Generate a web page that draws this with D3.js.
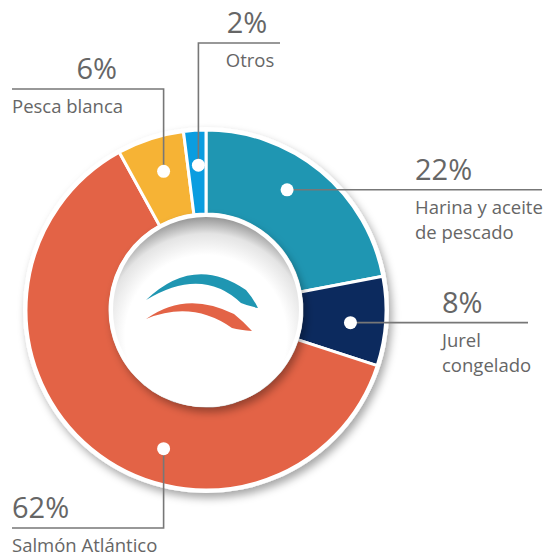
<!DOCTYPE html>
<html>
<head>
<meta charset="utf-8">
<script src="https://cdn.jsdelivr.net/npm/d3@7"></script>
<style>
  body { margin: 0; background: #fff; }
  svg { display: block; }
  text { font-family: "Open Sans", sans-serif; fill: #666; }
</style>
</head>
<body>
<svg width="549" height="557"></svg>
<script>
const categories = ["Harina y aceite de pescado", "Jurel congelado", "Salmón Atlántico", "Pesca blanca", "Otros"];
const values = [22, 8, 62, 6, 2];
const percentLabels = ["22%", "8%", "62%", "6%", "2%"];
const labelLines = [["Harina y aceite", "de pescado"], ["Jurel", "congelado"], ["Salmón Atlántico"], ["Pesca blanca"], ["Otros"]];
const sliceColors = ["#1f96b2", "#0c2a5e", "#e36346", "#f6b335", "#0a9de0"];

// label layout: dot angle (deg, clockwise from 12 o'clock), leader route and text anchor
const layout = [
  { ang: 34, route: "right", end: 542, tx: 415, anchor: "start" },
  { ang: 95, route: "right", end: 528, tx: 442, anchor: "start" },
  { ang: 197, route: "downLeft", turn: 528, end: 12, tx: 12, anchor: "start" },
  { ang: 343, route: "upLeft", turn: 89, end: 12, tx: 12, anchor: "start" },
  { ang: 357, route: "upRight", turn: 43, end: 280, tx: 247, anchor: "middle" }
];

const svg = d3.select("svg");
const cx = 206, cy = 310;
const outerR = 180, innerR = 96, dotR = 145;

const defs = svg.append("defs");
const shadow = defs.append("filter").attr("id", "shadow")
  .attr("x", "-20%").attr("y", "-20%").attr("width", "140%").attr("height", "140%");
shadow.append("feDropShadow").attr("dx", 3).attr("dy", 5).attr("stdDeviation", 4)
  .attr("flood-color", "#000").attr("flood-opacity", 0.35);

const bowl = defs.append("radialGradient").attr("id", "bowl")
  .attr("cx", "50%").attr("cy", "64%").attr("r", "64%");
bowl.append("stop").attr("offset", "68%").attr("stop-color", "#ffffff");
bowl.append("stop").attr("offset", "86%").attr("stop-color", "#e4e4e4");
bowl.append("stop").attr("offset", "100%").attr("stop-color", "#969696");

const g = svg.append("g").attr("transform", `translate(${cx},${cy})`);

// white rim behind ring, with shadow
g.append("circle").attr("r", outerR + 3).attr("fill", "#fff").attr("filter", "url(#shadow)");

const pie = d3.pie().sort(null).value(d => d)(values);
const arc = d3.arc().innerRadius(innerR).outerRadius(outerR);

g.selectAll(".slice")
  .data(pie)
  .enter()
  .append("path")
  .attr("class", "slice")
  .attr("d", arc)
  .attr("fill", (d, i) => sliceColors[i])
  .attr("stroke", "#fff")
  .attr("stroke-width", 3)
  .attr("stroke-linejoin", "miter");

// inner bowl
g.append("circle").attr("r", innerR + 1).attr("fill", "#fff").attr("filter", "url(#shadow)");
g.append("circle").attr("r", innerR - 3).attr("fill", "url(#bowl)");

// logo
const logo = g.append("g");
logo.append("path")
  .attr("d", "M-60,-10 Q-12,-56 40,-20 Q47,-12 52,-2 Q42,-4 35,-7 Q-4,-44 -60,-10 Z")
  .attr("fill", "#1f96b2");
logo.append("path")
  .attr("d", "M-60,9 Q-20,-20 28,4 Q38,12 46,21 Q34,20 26,18 Q-14,-10 -60,9 Z")
  .attr("fill", "#e36346");

// leader lines, dots, labels
const rad = a => a * Math.PI / 180;
const lines = svg.append("g");
const dots = svg.append("g");
const labels = svg.append("g");

pie.forEach((d, i) => {
  const L = layout[i];
  const x0 = cx + dotR * Math.sin(rad(L.ang));
  const y0 = cy - dotR * Math.cos(rad(L.ang));
  let pts, lineY;
  if (L.route === "right") {
    pts = [[x0, y0], [L.end, y0]]; lineY = y0;
  } else {
    pts = [[x0, y0], [x0, L.turn], [L.end, L.turn]]; lineY = L.turn;
  }
  lines.append("path")
    .attr("d", d3.line()(pts))
    .attr("fill", "none")
    .attr("stroke", "#777")
    .attr("stroke-width", 1.6);
  dots.append("circle")
    .attr("cx", x0).attr("cy", y0).attr("r", 6.5)
    .attr("fill", "#fff");

  const pctX = L.route === "upLeft" ? 117 : L.tx;
  labels.append("text")
    .attr("x", pctX).attr("y", lineY - 10)
    .attr("text-anchor", L.route === "upLeft" ? "end" : L.anchor)
    .style("font-size", "29px")
    .text(percentLabels[i]);
  labelLines[i].forEach((t, j) => {
    labels.append("text")
      .attr("x", L.route === "upRight" ? 250 : L.tx)
      .attr("y", lineY + 24 + j * 25)
      .attr("text-anchor", L.anchor)
      .style("font-size", "18.5px")
      .text(t);
  });
});
</script>
</body>
</html>
